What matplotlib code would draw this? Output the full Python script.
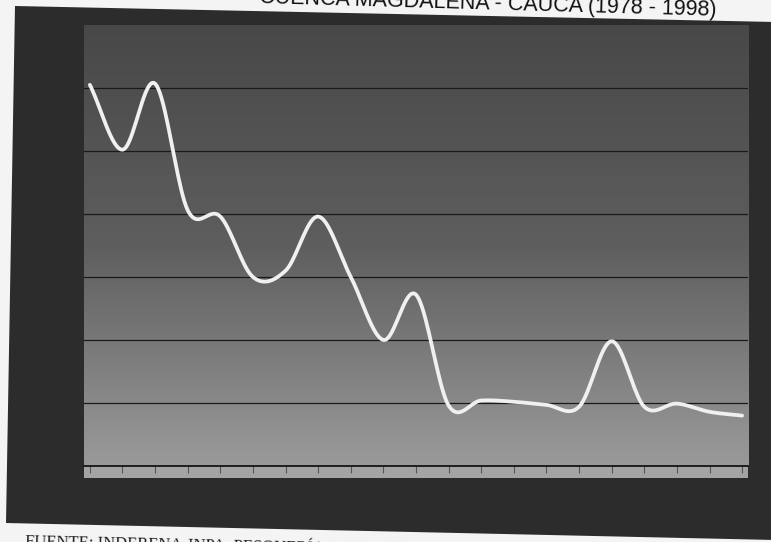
import numpy as np
import matplotlib
matplotlib.use('Agg')
import matplotlib.pyplot as plt
from matplotlib.patches import Polygon, Rectangle
from matplotlib.colors import LinearSegmentedColormap

# produccion anual (escala del eje: 0 - 70, lineas cada 10)
years = list(range(1978, 1999))
catch = [60.5, 50.2, 60.7, 40.6, 39.6, 30.0, 31.0, 39.6, 30.0, 20.0, 27.2,
         9.6, 10.4, 10.2, 9.7, 9.4, 19.8, 9.4, 9.9, 8.6, 8.0]

title_text = 'CUENCA MAGDALENA - CAUCA (1978 - 1998)'
source_text = 'FUENTE: INDERENA-INPA. PESQUERÍA CONTINENTAL'


def smooth_line(x, y, n=20):
    # curva suavizada tipo Catmull-Rom (como la linea suavizada de la hoja de calculo)
    x = np.asarray(x, float)
    y = np.asarray(y, float)
    px = np.concatenate([[2 * x[0] - x[1]], x, [2 * x[-1] - x[-2]]])
    py = np.concatenate([[2 * y[0] - y[1]], y, [2 * y[-1] - y[-2]]])
    xs, ys = [], []
    t = np.linspace(0, 1, n, endpoint=False)
    for i in range(1, len(px) - 2):
        for p, out in ((px, xs), (py, ys)):
            p0, p1, p2, p3 = p[i - 1], p[i], p[i + 1], p[i + 2]
            out.extend(0.5 * (2 * p1 + (-p0 + p2) * t
                              + (2 * p0 - 5 * p1 + 4 * p2 - p3) * t ** 2
                              + (-p0 + 3 * p1 - 3 * p2 + p3) * t ** 3))
    xs.append(x[-1])
    ys.append(y[-1])
    return np.array(xs), np.array(ys)


W, H = 771, 542
fig = plt.figure(figsize=(W / 100, H / 100), dpi=100)
fig.patch.set_facecolor('#f4f4f4')


def fx(px):
    return px / W


def fy(py):
    return 1 - py / H


# titulo (parcialmente cortado por el borde superior)
fig.text(fx(716), fy(16), title_text, ha='right', va='baseline',
         rotation=-1.6, rotation_mode='anchor', fontsize=15.5,
         family='Liberation Sans', color='#111111', zorder=-3)
# fuente (parcialmente cortada por el borde inferior)
fig.text(fx(25), fy(547), source_text, ha='left', va='baseline',
         rotation=-1.3, rotation_mode='anchor', fontsize=12,
         family='Liberation Serif', color='#202020', zorder=-3)

# fondo oscuro de la foto
photo = Polygon([(fx(15), fy(6)), (fx(775), fy(22)), (fx(775), fy(540)), (fx(6), fy(523))],
                closed=True, transform=fig.transFigure, facecolor='#2c2c2c',
                edgecolor='none', zorder=-2)
fig.add_artist(photo)

# piso claro bajo el eje
floor = Rectangle((fx(84), fy(478)), fx(748) - fx(84), fy(466) - fy(478),
                  transform=fig.transFigure, facecolor='#a4a4a4',
                  edgecolor='none', zorder=-1)
fig.add_artist(floor)

ax = fig.add_axes([fx(84), fy(466), fx(748) - fx(84), fy(25) - fy(466)])
ax.set_xlim(years[0] - 0.18, years[-1] + 0.18)
ax.set_ylim(0, 70)

bg = LinearSegmentedColormap.from_list('bg', ['#484848', '#5e5e5e', '#9a9a9a'])
grad = np.linspace(0, 1, 256).reshape(-1, 1)
ax.imshow(grad, extent=[0, 1, 0, 1], transform=ax.transAxes, aspect='auto',
          cmap=bg, origin='upper', zorder=0)

for g in range(10, 70, 10):
    ax.axhline(g, color='#1a1a1a', lw=0.9, zorder=1)

sx, sy = smooth_line(years, catch)
ax.plot(sx, sy, color='#f0f0f0', lw=2.7, solid_capstyle='round', zorder=3)

for s in ['top', 'right', 'left']:
    ax.spines[s].set_visible(False)
ax.spines['bottom'].set_color('#151515')
ax.spines['bottom'].set_linewidth(1.3)
ax.set_xticks(years)
ax.set_yticks([])
ax.tick_params(axis='x', direction='out', length=5, width=0.8,
               color='#555555', labelbottom=False)

fig.savefig('out.png', dpi=100, facecolor=fig.get_facecolor())
